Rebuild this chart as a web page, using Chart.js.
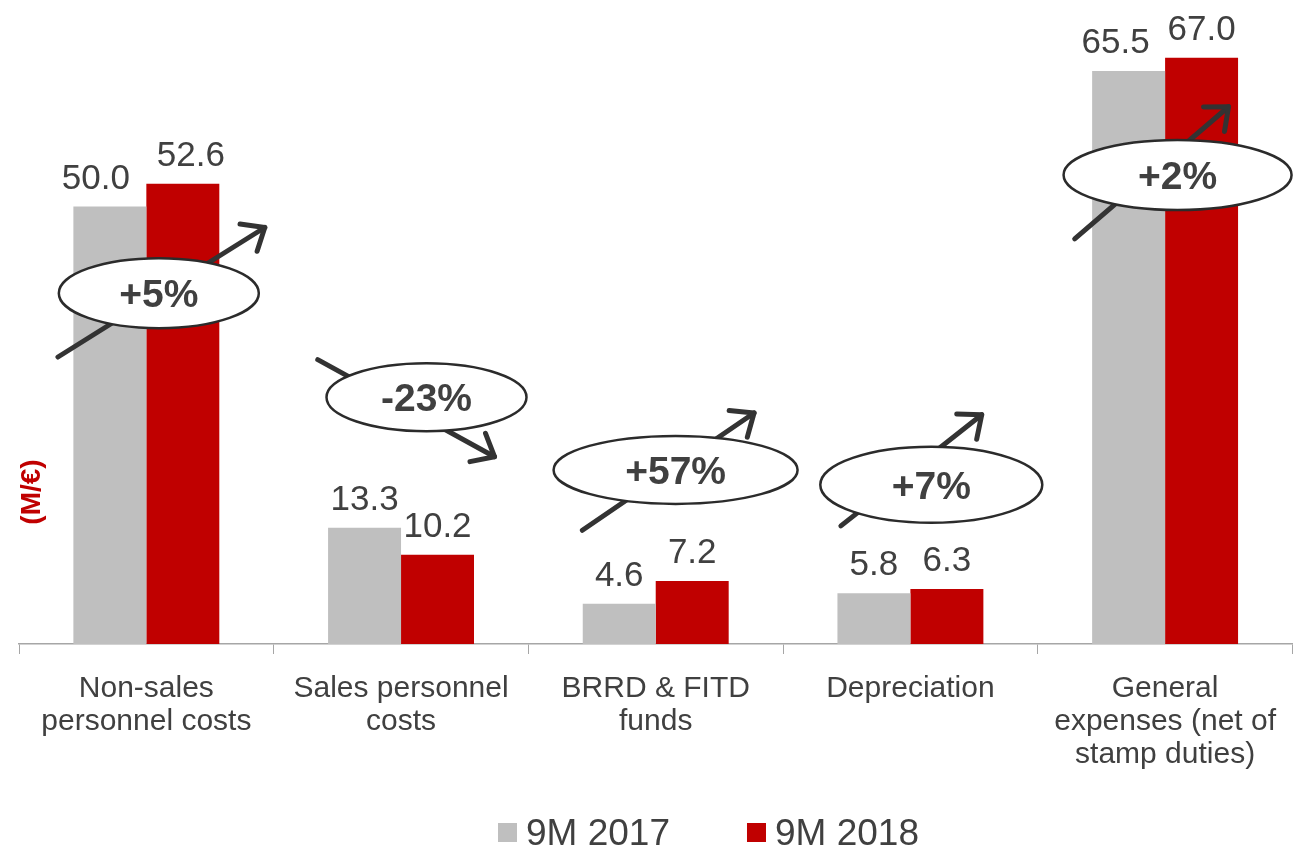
<!DOCTYPE html>
<html><head><meta charset="utf-8">
<script src="https://cdn.jsdelivr.net/npm/chart.js@4.4.1/dist/chart.umd.min.js"></script>
<style>html,body{margin:0;padding:0;background:#fff;overflow:hidden}</style>
</head><body>
<canvas id="c" width="1294" height="847"></canvas>
<script>
// ---- data ----
const categories = [['Non-sales','personnel costs'],['Sales personnel','costs'],['BRRD & FITD','funds'],['Depreciation'],['General','expenses (net of','stamp duties)']];
const seriesNames = ['9M 2017','9M 2018'];
const values2017 = [50.0, 13.3, 4.6, 5.8, 65.5];
const values2018 = [52.6, 10.2, 7.2, 6.3, 67.0];
const changeLabels = ['+5%','-23%','+57%','+7%','+2%'];
const unitLabel = '(M/€)';

// ---- styling / annotation layout (category-relative, y in data units) ----
const FONT = "'Liberation Sans', Arial, Helvetica, sans-serif";
const TEXT = '#404040';
const labelNudge = [[-14, 8], [0, 0], [0, 0], [0, 0], [-13, 0]];
const callouts = [
  {ex:0.049, ey:40.1, rx:100, ry:35, sx:-0.347, sy:32.8, tx:0.465, ty:47.6},
  {ex:0.100, ey:28.2, rx:100, ry:34, sx:-0.327, sy:32.5, tx:0.367, ty:21.4},
  {ex:0.078, ey:19.9, rx:122, ry:34, sx:-0.288, sy:13.0, tx:0.386, ty:26.4},
  {ex:0.082, ey:18.2, rx:111, ry:38, sx:-0.273, sy:13.5, tx:0.280, ty:26.2},
  {ex:0.049, ey:53.6, rx:114, ry:35, sx:-0.355, sy:46.3, tx:0.249, ty:61.4}
];

const decorPlugin = {
  id: 'decor',
  afterDatasetsDraw(chart) {
    const ctx = chart.ctx;
    const xs = chart.scales.x, ys = chart.scales.y;
    const cw = (chart.chartArea.right - chart.chartArea.left) / categories.length;
    // value labels
    ctx.save();
    ctx.font = '35px ' + FONT;
    ctx.fillStyle = TEXT;
    ctx.textAlign = 'center';
    ctx.textBaseline = 'alphabetic';
    chart.data.datasets.forEach((ds, di) => {
      const meta = chart.getDatasetMeta(di);
      meta.data.forEach((bar, i) => {
        ctx.fillText(ds.data[i].toFixed(1), bar.x + labelNudge[i][di], bar.y - 18);
      });
    });
    ctx.restore();
    // callouts
    callouts.forEach((c, i) => {
      const cx = xs.getPixelForValue(i);
      const x0 = cx + c.sx * cw, y0 = ys.getPixelForValue(c.sy);
      const x1 = cx + c.tx * cw, y1 = ys.getPixelForValue(c.ty);
      ctx.save();
      ctx.strokeStyle = '#333333';
      ctx.lineWidth = 5;
      ctx.lineCap = 'round';
      ctx.lineJoin = 'round';
      ctx.beginPath(); ctx.moveTo(x0, y0); ctx.lineTo(x1, y1); ctx.stroke();
      const ang = Math.atan2(y1 - y0, x1 - x0);
      const hl = 25, ha = 0.7;
      ctx.beginPath();
      ctx.moveTo(x1 - hl * Math.cos(ang - ha), y1 - hl * Math.sin(ang - ha));
      ctx.lineTo(x1, y1);
      ctx.lineTo(x1 - hl * Math.cos(ang + ha), y1 - hl * Math.sin(ang + ha));
      ctx.stroke();
      const ex = cx + c.ex * cw, ey = ys.getPixelForValue(c.ey);
      ctx.beginPath();
      ctx.ellipse(ex, ey, c.rx, c.ry, 0, 0, Math.PI * 2);
      ctx.fillStyle = '#ffffff';
      ctx.fill();
      ctx.lineWidth = 2.5;
      ctx.strokeStyle = '#2b2b2b';
      ctx.stroke();
      ctx.font = 'bold 39px ' + FONT;
      ctx.fillStyle = TEXT;
      ctx.textAlign = 'center';
      ctx.textBaseline = 'middle';
      ctx.fillText(changeLabels[i], ex, ey + 3);
      ctx.restore();
    });
    // unit label
    ctx.save();
    ctx.translate(32, 492);
    ctx.rotate(-Math.PI / 2);
    ctx.font = 'bold 28px ' + FONT;
    ctx.fillStyle = '#c00000';
    ctx.textAlign = 'center';
    ctx.textBaseline = 'middle';
    ctx.fillText(unitLabel, 0, 0);
    ctx.restore();
    // legend
    ctx.save();
    ctx.font = '37px ' + FONT;
    ctx.textAlign = 'left';
    ctx.textBaseline = 'alphabetic';
    let lx = 498;
    const baseY = 845;
    chart.data.datasets.forEach((ds, di) => {
      ctx.fillStyle = ds.backgroundColor;
      ctx.fillRect(lx, 823, 19, 19);
      ctx.fillStyle = TEXT;
      ctx.fillText(ds.label, lx + 28, baseY);
      lx += 28 + ctx.measureText(ds.label).width + 77;
    });
    ctx.restore();
  }
};

new Chart(document.getElementById('c'), {
  type: 'bar',
  data: {
    labels: categories,
    datasets: [
      {label: seriesNames[0], data: values2017, backgroundColor: '#bfbfbf'},
      {label: seriesNames[1], data: values2018, backgroundColor: '#c00000'}
    ]
  },
  options: {
    responsive: false,
    animation: false,
    devicePixelRatio: 1,
    layout: {padding: {left: 19, right: 0, top: 0, bottom: 43}},
    datasets: {bar: {categoryPercentage: 0.573, barPercentage: 1.0}},
    scales: {
      x: {
        offset: true,
        grid: {display: true, drawOnChartArea: false, drawTicks: true, tickLength: 10, color: '#a6a6a6', lineWidth: 1},
        border: {display: true, color: '#a6a6a6', width: 1.5},
        ticks: {color: TEXT, font: {family: FONT, size: 30, lineHeight: 1.1}, padding: 18, maxRotation: 0, autoSkip: false},
        afterFit(scale) { scale.height = 160; }
      },
      y: {display: false, min: 0, max: 73.6}
    },
    plugins: {
      legend: {display: false},
      tooltip: {enabled: false}
    }
  },
  plugins: [decorPlugin]
});
</script>
</body></html>
